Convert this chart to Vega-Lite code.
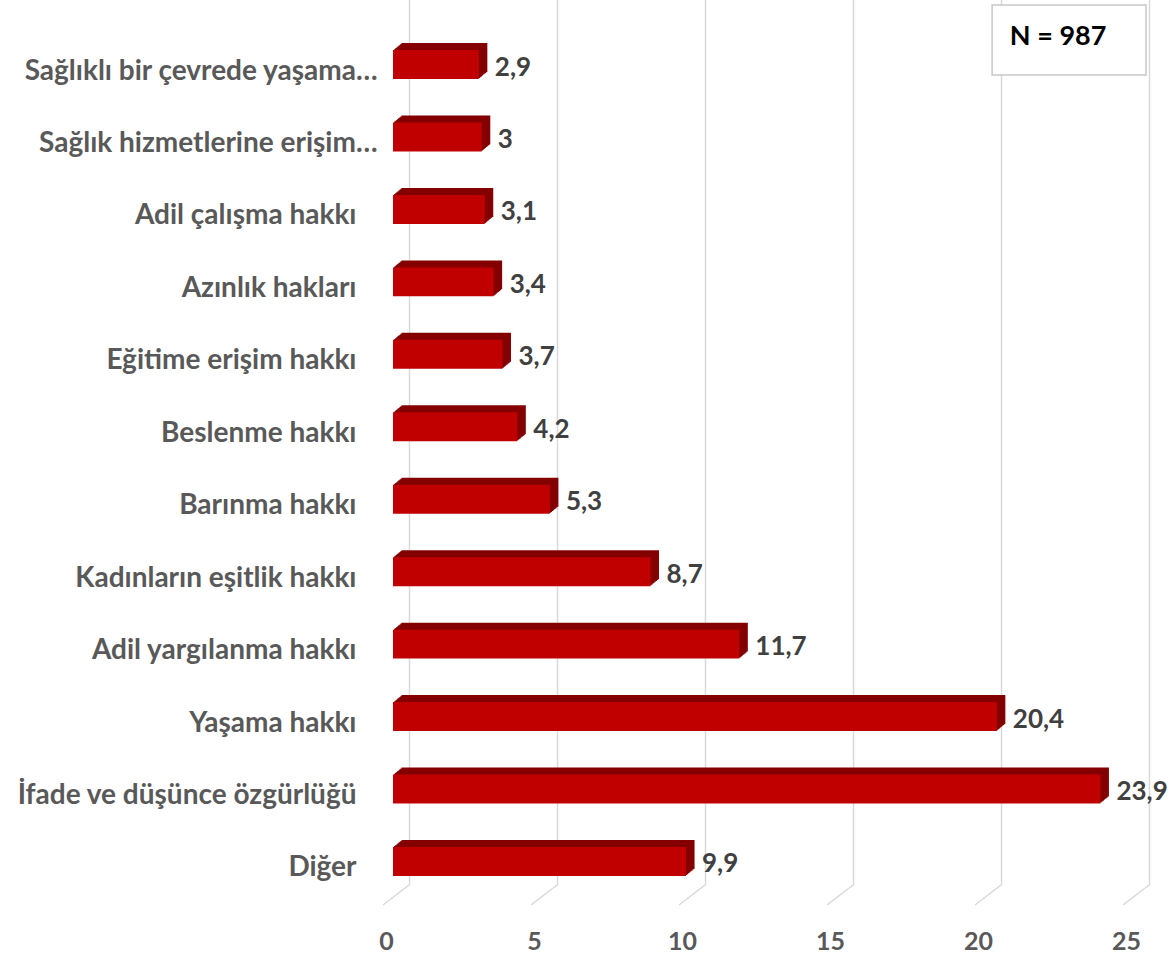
{
  "$schema": "https://vega.github.io/schema/vega-lite/v6.json",
  "width": 740,
  "height": 885,
  "autosize": "none",
  "padding": {"left": 409, "top": 0, "right": 24, "bottom": 73},
  "background": "white",
  "config": {
    "view": {"stroke": null},
    "font": "Lato",
    "locale": {"number": {"decimal": ",", "thousands": ".", "grouping": [3], "currency": ["", " TL"]}}
  },
  "datasets": {
    "rights": [
      {"category": "Sağlıklı bir çevrede yaşama…", "value": 2.9},
      {"category": "Sağlık hizmetlerine erişim…", "value": 3.0},
      {"category": "Adil çalışma hakkı", "value": 3.1},
      {"category": "Azınlık hakları", "value": 3.4},
      {"category": "Eğitime erişim hakkı", "value": 3.7},
      {"category": "Beslenme hakkı", "value": 4.2},
      {"category": "Barınma hakkı", "value": 5.3},
      {"category": "Kadınların eşitlik hakkı", "value": 8.7},
      {"category": "Adil yargılanma hakkı", "value": 11.7},
      {"category": "Yaşama hakkı", "value": 20.4},
      {"category": "İfade ve düşünce özgürlüğü", "value": 23.9},
      {"category": "Diğer", "value": 9.9}
    ],
    "ticks": [{"t": 0}, {"t": 5}, {"t": 10}, {"t": 15}, {"t": 20}, {"t": 25}],
    "note": [{"label": "N = 987"}]
  },
  "resolve": {"scale": {"y": "independent"}, "axis": {"y": "independent"}},
  "layer": [
    {
      "layer": [
        {
          "data": {"name": "ticks"},
          "mark": {"type": "rule", "color": "#d9d9d9", "strokeWidth": 1.5, "x2Offset": -26},
          "encoding": {
            "x": {"field": "t", "type": "quantitative", "scale": {"domain": [0, 25], "nice": false}},
            "x2": {"field": "t"},
            "y": {"datum": 885, "type": "quantitative", "scale": {"domain": [0, 958], "range": [0, 958], "nice": false, "zero": false}, "axis": null},
            "y2": {"datum": 905}
          }
        },
        {
          "data": {"name": "note"},
          "mark": {"type": "rect", "fill": "white", "stroke": "#c8c8c8", "strokeWidth": 1.5},
          "encoding": {
            "x": {"datum": 19.7, "type": "quantitative"},
            "x2": {"datum": 24.9},
            "y": {"datum": 5, "type": "quantitative"},
            "y2": {"datum": 75}
          }
        },
        {
          "data": {"name": "note"},
          "mark": {"type": "text", "fontSize": 27, "fontWeight": "bold", "color": "#000000", "align": "center", "baseline": "middle"},
          "encoding": {
            "x": {"datum": 21.93, "type": "quantitative"},
            "y": {"datum": 37, "type": "quantitative"},
            "text": {"field": "label"}
          }
        }
      ]
    },
    {
      "data": {"name": "rights"},
      "resolve": {"scale": {"y": "independent"}, "axis": {"y": "independent"}},
      "encoding": {
        "y": {
          "field": "category", "type": "nominal", "sort": null,
          "scale": {"range": [28.3, 897.7], "paddingInner": 0.6, "paddingOuter": 0.3},
          "axis": null
        },
        "x": {
          "field": "value", "type": "quantitative",
          "scale": {"domain": [0, 25], "nice": false},
          "axis": {
            "title": null, "domain": false, "ticks": false, "grid": true,
            "gridColor": "#d9d9d9", "gridWidth": 1.5, "values": [0, 5, 10, 15, 20, 25],
            "labelFontSize": 25, "labelFont": "Lato", "labelFontWeight": "bold", "labelColor": "#595959",
            "labelPadding": 44, "labelOffset": -23, "labelFlush": false
          }
        }
      },
      "layer": [
        {
          "mark": {"type": "bar", "color": "#840000", "xOffset": -7.5, "x2Offset": -7.5, "yOffset": -7, "y2Offset": -7},
          "encoding": {
            "y": {
              "field": "category", "type": "nominal", "sort": null,
              "scale": {"range": [28.3, 897.7], "paddingInner": 0.6, "paddingOuter": 0.3},
              "axis": {
                "orient": "left", "title": null, "domain": false, "ticks": false, "grid": false,
                "labelFontSize": 28, "labelFont": "Lato", "labelFontWeight": "bold", "labelColor": "#595959",
                "labelOffset": 7, "labelLimit": 450, "labelPadding": 32,
                "values": ["Sağlıklı bir çevrede yaşama…", "Sağlık hizmetlerine erişim…"]
              }
            }
          }
        },
        {"mark": {"type": "bar", "color": "#840000", "xOffset": -8.6, "x2Offset": -8.6, "yOffset": -6.1, "y2Offset": -6.1}},
        {"mark": {"type": "bar", "color": "#840000", "xOffset": -9.6, "x2Offset": -9.6, "yOffset": -5.2, "y2Offset": -5.2}},
        {"mark": {"type": "bar", "color": "#840000", "xOffset": -10.7, "x2Offset": -10.7, "yOffset": -4.4, "y2Offset": -4.4}},
        {"mark": {"type": "bar", "color": "#840000", "xOffset": -11.8, "x2Offset": -11.8, "yOffset": -3.5, "y2Offset": -3.5}},
        {"mark": {"type": "bar", "color": "#840000", "xOffset": -12.8, "x2Offset": -12.8, "yOffset": -2.6, "y2Offset": -2.6}},
        {"mark": {"type": "bar", "color": "#840000", "xOffset": -13.9, "x2Offset": -13.9, "yOffset": -1.7, "y2Offset": -1.7}},
        {"mark": {"type": "bar", "color": "#840000", "xOffset": -14.9, "x2Offset": -14.9, "yOffset": -0.9, "y2Offset": -0.9}},
        {
          "mark": {"type": "bar", "color": "#C00000", "xOffset": -16, "x2Offset": -16},
          "encoding": {
            "y": {
              "field": "category", "type": "nominal", "sort": null,
              "scale": {"range": [28.3, 897.7], "paddingInner": 0.6, "paddingOuter": 0.3},
              "axis": {
                "orient": "left", "title": null, "domain": false, "ticks": false, "grid": false,
                "labelFontSize": 28, "labelFont": "Lato", "labelFontWeight": "bold", "labelColor": "#595959",
                "labelOffset": 7, "labelLimit": 450, "labelPadding": 53,
                "values": ["Adil çalışma hakkı", "Azınlık hakları", "Eğitime erişim hakkı", "Beslenme hakkı", "Barınma hakkı", "Kadınların eşitlik hakkı", "Adil yargılanma hakkı", "Yaşama hakkı", "İfade ve düşünce özgürlüğü", "Diğer"]
              }
            }
          }
        },
        {
          "mark": {"type": "text", "align": "left", "baseline": "middle", "dx": 0, "dy": 3, "fontSize": 26, "fontWeight": "bold", "color": "#404040"},
          "encoding": {"text": {"field": "value", "type": "quantitative", "format": ".1~f"}}
        }
      ]
    }
  ]
}
